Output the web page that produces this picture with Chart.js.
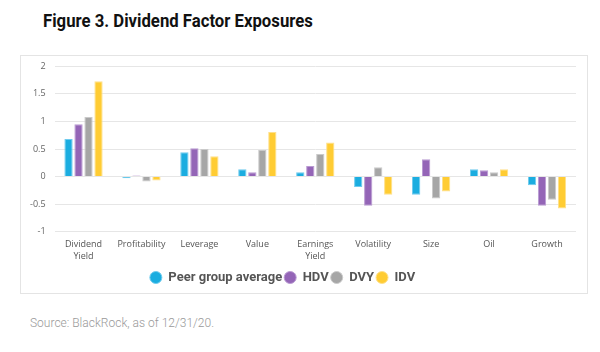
<!DOCTYPE html>
<html>
<head>
<meta charset="utf-8">
<script src="https://cdn.jsdelivr.net/npm/chart.js@4/dist/chart.umd.min.js"></script>
<style>
  html, body { margin: 0; padding: 0; background: #fff; }
  body { width: 600px; height: 352px; position: relative; overflow: hidden; }
  #title { position: absolute; left: 43px; top: 9px; font-family: Roboto, sans-serif; font-weight: bold; font-size: 19px; color: #111; white-space: nowrap; transform: scaleX(0.88); transform-origin: left top; }
  #box { position: absolute; left: 20px; top: 55px; width: 566px; height: 237px; border: 1px solid #e4e4e4; }
  #c { position: absolute; left: 0; top: -4px; }
  #source { position: absolute; left: 30px; top: 314px; font-family: Roboto, sans-serif; font-weight: 300; font-size: 13.5px; color: #999; white-space: nowrap; transform: scaleX(0.89); transform-origin: left top; }
</style>
</head>
<body>
<div id="title">Figure 3. Dividend Factor Exposures</div>
<div id="box"><canvas id="c" width="566" height="242"></canvas></div>
<div id="source">Source: BlackRock, as of 12/31/20.</div>
<script>
const categories = [["Dividend", "Yield"], "Profitability", "Leverage", "Value", ["Earnings", "Yield"], "Volatility", "Size", "Oil", "Growth"];
const seriesNames = ["Peer group average", "HDV", "DVY", "IDV"];
const peerGroupAverage = [0.68, -0.03, 0.44, 0.13, 0.08, -0.19, -0.33, 0.13, -0.16];
const hdv = [0.95, 0.02, 0.515, 0.08, 0.19, -0.53, 0.315, 0.115, -0.53];
const dvy = [1.08, -0.09, 0.50, 0.48, 0.41, 0.17, -0.40, 0.08, -0.42];
const idv = [1.73, -0.07, 0.37, 0.81, 0.62, -0.33, -0.27, 0.13, -0.58];
const yTicks = [2, 1.5, 1, 0.5, 0, -0.5, -1];
const colors = ["#1BADE0", "#9465B7", "#A6A6A6", "#FFCC33"];
const borders = ["#6FCBEE", "#B99AD2", "#CACACA", "#FFE08A"];
const values = [peerGroupAverage, hdv, dvy, idv];

const legendShift = {
  id: "legendShift",
  afterLayout(chart) {
    const l = chart.legend;
    if (l) { l.left -= 16; l.right -= 16; }
  }
};

new Chart(document.getElementById("c"), {
  type: "bar",
  data: {
    labels: categories,
    datasets: seriesNames.map((n, i) => ({
      label: n,
      data: values[i],
      backgroundColor: colors[i],
      borderColor: borders[i],
      borderWidth: 1,
      barPercentage: 0.83,
      categoryPercentage: 0.69
    }))
  },
  plugins: [legendShift],
  options: {
    responsive: false,
    animation: false,
    devicePixelRatio: 1,
    layout: { padding: { top: 1, right: 11, left: 0, bottom: 0 } },
    scales: {
      x: {
        grid: { display: false, drawTicks: false },
        border: { display: false },
        ticks: {
          autoSkip: false, maxRotation: 0, minRotation: 0,
          color: "#555", padding: 7,
          font: { family: "'Open Sans', sans-serif", size: 9, lineHeight: 1.3 }
        }
      },
      y: {
        min: -1, max: 2,
        afterBuildTicks: (axis) => { axis.ticks = yTicks.map(v => ({ value: v })); },
        grid: { color: "#e6e6e6", lineWidth: 1, drawTicks: false },
        border: { display: false },
        ticks: {
          color: "#666", padding: 9,
          callback: (v) => String(v),
          font: { family: "'Open Sans', sans-serif", size: 9 }
        }
      }
    },
    plugins: {
      legend: {
        position: "bottom",
        labels: {
          usePointStyle: true, pointStyle: "circle",
          boxHeight: 8.5, pointStyleWidth: 12, padding: 2,
          color: "#555",
          font: { family: "Roboto, sans-serif", size: 13, weight: "bold" }
        }
      },
      tooltip: { enabled: false }
    }
  }
});
</script>
</body>
</html>
